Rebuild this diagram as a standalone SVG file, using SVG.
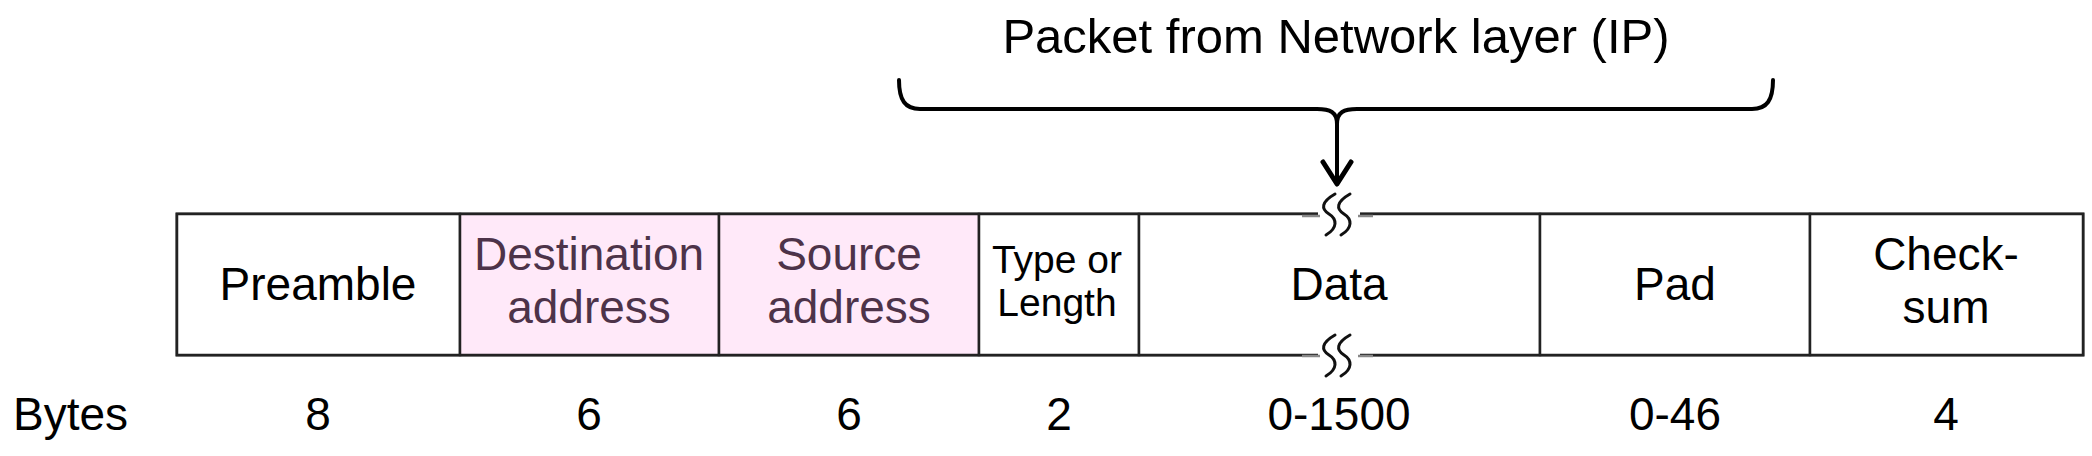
<svg xmlns="http://www.w3.org/2000/svg" width="2092" height="456" viewBox="0 0 2092 456">
<style>
text{font-family:"Liberation Sans",Arial,sans-serif;fill:#000;text-anchor:middle}
.lbl{font-size:46px}
.sm{font-size:39px}
.pk{fill:#4d3349}
.cell{stroke:#222;stroke-width:2.5}
.wave{fill:none;stroke:#111;stroke-width:3;stroke-linecap:round}
.con{fill:none;stroke:#000;stroke-width:4;stroke-linecap:round;stroke-linejoin:round}
</style>
<rect width="2092" height="456" fill="#fff"/>
<text x="1336" y="53" style="font-size:49px">Packet from Network layer (IP)</text>
<g id="connectors">
<path class="con" d="M899 80 C899 100 905 109 920 109 L1317 109 C1330 109 1337 112 1337 124 C1337 112 1344 109 1357 109 L1752 109 C1767 109 1773 100 1773 80"/>
<path class="con" d="M1337 124 L1337 183"/>
<path class="con" style="stroke-width:5" d="M1323 162 L1337 184 L1351 162"/>
</g>
<g id="frame">
<rect x="177" y="214" width="1906" height="141" fill="#fff" stroke="#222" stroke-width="3"/>
</g>
<g id="preamble">
<rect class="cell" x="177" y="214" width="283" height="141" fill="#fff"/>
<text class="lbl" x="318" y="300">Preamble</text>
</g>
<g id="dest">
<rect class="cell" x="460" y="214" width="259" height="141" fill="#ffe9f9"/>
<text class="lbl pk" x="589" y="270">Destination</text>
<text class="lbl pk" x="589" y="323">address</text>
</g>
<g id="src">
<rect class="cell" x="719" y="214" width="260" height="141" fill="#ffe9f9"/>
<text class="lbl pk" x="849" y="270">Source</text>
<text class="lbl pk" x="849" y="323">address</text>
</g>
<g id="type">
<rect class="cell" x="979" y="214" width="160" height="141" fill="#fff"/>
<text class="sm" x="1057" y="273">Type or</text>
<text class="sm" x="1057" y="316">Length</text>
</g>
<g id="data">
<rect class="cell" x="1139" y="214" width="401" height="141" fill="#fff"/>
<text class="lbl" x="1339" y="300">Data</text>
<rect x="1318" y="210" width="42" height="8" fill="#fff"/>
<rect x="1318" y="351" width="42" height="8" fill="#fff"/>
<line x1="1302" y1="216" x2="1320" y2="216" stroke="#888" stroke-width="2.5"/>
<line x1="1358" y1="216" x2="1373" y2="216" stroke="#888" stroke-width="2.5"/>
<line x1="1302" y1="356" x2="1320" y2="356" stroke="#888" stroke-width="2.5"/>
<line x1="1358" y1="356" x2="1373" y2="356" stroke="#888" stroke-width="2.5"/>
<path class="wave" d="M1335 194 C1321 202 1321 209 1329 214 C1337 219 1338 228 1326 235"/>
<path class="wave" d="M1350 194 C1336 202 1336 209 1344 214 C1352 219 1353 228 1341 235"/>
<path class="wave" d="M1335 335 C1321 343 1321 350 1329 355 C1337 360 1338 369 1326 376"/>
<path class="wave" d="M1350 335 C1336 343 1336 350 1344 355 C1352 360 1353 369 1341 376"/>
</g>
<g id="pad">
<rect class="cell" x="1540" y="214" width="270" height="141" fill="#fff"/>
<text class="lbl" x="1675" y="300">Pad</text>
</g>
<g id="checksum">
<rect class="cell" x="1810" y="214" width="273" height="141" fill="#fff"/>
<text class="lbl" x="1946" y="270">Check-</text>
<text class="lbl" x="1946" y="323">sum</text>
</g>
<g id="bytes">
<text class="lbl" x="13" y="430" style="text-anchor:start">Bytes</text>
<text class="lbl" x="318" y="430">8</text>
<text class="lbl" x="589" y="430">6</text>
<text class="lbl" x="849" y="430">6</text>
<text class="lbl" x="1059" y="430">2</text>
<text class="lbl" x="1339" y="430">0-1500</text>
<text class="lbl" x="1675" y="430">0-46</text>
<text class="lbl" x="1946" y="430">4</text>
</g>
</svg>
